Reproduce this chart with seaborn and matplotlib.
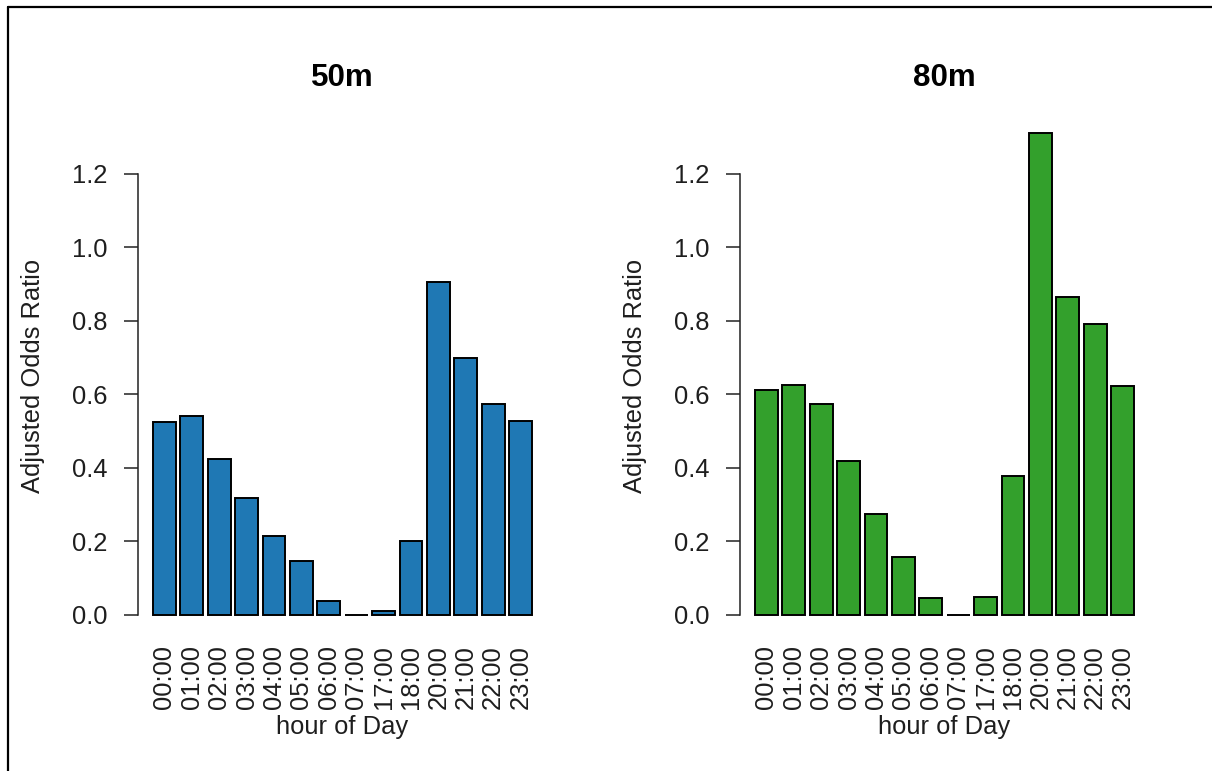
import matplotlib
matplotlib.use("Agg")
import matplotlib.pyplot as plt
from matplotlib.lines import Line2D
import seaborn as sns
import pandas as pd

hours = ["00:00", "01:00", "02:00", "03:00", "04:00", "05:00", "06:00",
         "07:00", "17:00", "18:00", "20:00", "21:00", "22:00", "23:00"]
odds_50m = [0.524, 0.542, 0.425, 0.318, 0.214, 0.147, 0.039,
            0.0, 0.012, 0.202, 0.905, 0.699, 0.574, 0.529]
odds_80m = [0.613, 0.627, 0.574, 0.418, 0.275, 0.158, 0.045,
            0.0, 0.050, 0.377, 1.311, 0.864, 0.793, 0.622]
titles = ["50m", "80m"]
colors = ["#1F78B4", "#33A02C"]
yticks = [0.0, 0.2, 0.4, 0.6, 0.8, 1.0, 1.2]

sns.set_style("white")
plt.rcParams["font.family"] = ["Liberation Sans", "DejaVu Sans"]
TXT = "#1e1e1e"

W, H = 1212, 771
fig = plt.figure(figsize=(W / 100, H / 100), dpi=100)
fig.patch.set_facecolor("white")

ax_bottom_px, ax_top_px = 634.1, 118.1
lefts_px = [137.8, 739.8]
width_px = 409.4

for i, (title, vals, col) in enumerate(zip(titles, [odds_50m, odds_80m], colors)):
    ax = fig.add_axes([lefts_px[i] / W, 1 - ax_bottom_px / H,
                       width_px / W, (ax_bottom_px - ax_top_px) / H])
    df = pd.DataFrame({"hour": hours, "odds": vals})
    sns.barplot(data=df, x="hour", y="odds", order=hours, color=col,
                saturation=1, edgecolor="black", linewidth=1.4,
                width=1 / 1.2, errorbar=None, ax=ax)
    for p in ax.patches:
        p.set_facecolor(col)
        p.set_clip_on(False)
    ax.set_xlim(-0.97, 13.97)
    ax.set_ylim(-0.052, 1.352)
    for s in ["top", "right", "bottom"]:
        ax.spines[s].set_visible(False)
    ax.spines["left"].set_bounds(0, 1.2)
    ax.spines["left"].set_linewidth(1.1)
    ax.spines["left"].set_color("#222222")
    ax.set_yticks(yticks)
    ax.set_yticklabels([f"{t:.1f}" for t in yticks])
    ax.tick_params(axis="y", left=True, length=10, width=1.1, color="#222222",
                   pad=12, labelsize=18.4, labelcolor=TXT)
    ax.tick_params(axis="x", bottom=False, length=0, pad=8, labelsize=18.4,
                   labelcolor=TXT, labelrotation=90)
    ax.set_xlabel("hour of Day", fontsize=18.4, color=TXT, va="center")
    ax.xaxis.set_label_coords(0.5, -(727 - ax_bottom_px) / (ax_bottom_px - ax_top_px))
    ax.set_ylabel("Adjusted Odds Ratio", fontsize=18.4, color=TXT, va="center")
    ax.yaxis.set_label_coords((33 - 137.8) / width_px, 0.5)
    ax.set_title(title, fontsize=22.5, fontweight="bold", color="black",
                 y=(ax_bottom_px - 78) / (ax_bottom_px - ax_top_px), va="center", pad=0)
    ax.grid(False)

# partial outer frame (top and left edges)
fig.add_artist(Line2D([8 / W, 1.0], [1 - 7 / H, 1 - 7 / H], transform=fig.transFigure,
                      color="black", linewidth=1.6))
fig.add_artist(Line2D([8 / W, 8 / W], [0.0, 1 - 7 / H], transform=fig.transFigure,
                      color="black", linewidth=1.6))

fig.savefig("out.png", dpi=100, facecolor="white")
